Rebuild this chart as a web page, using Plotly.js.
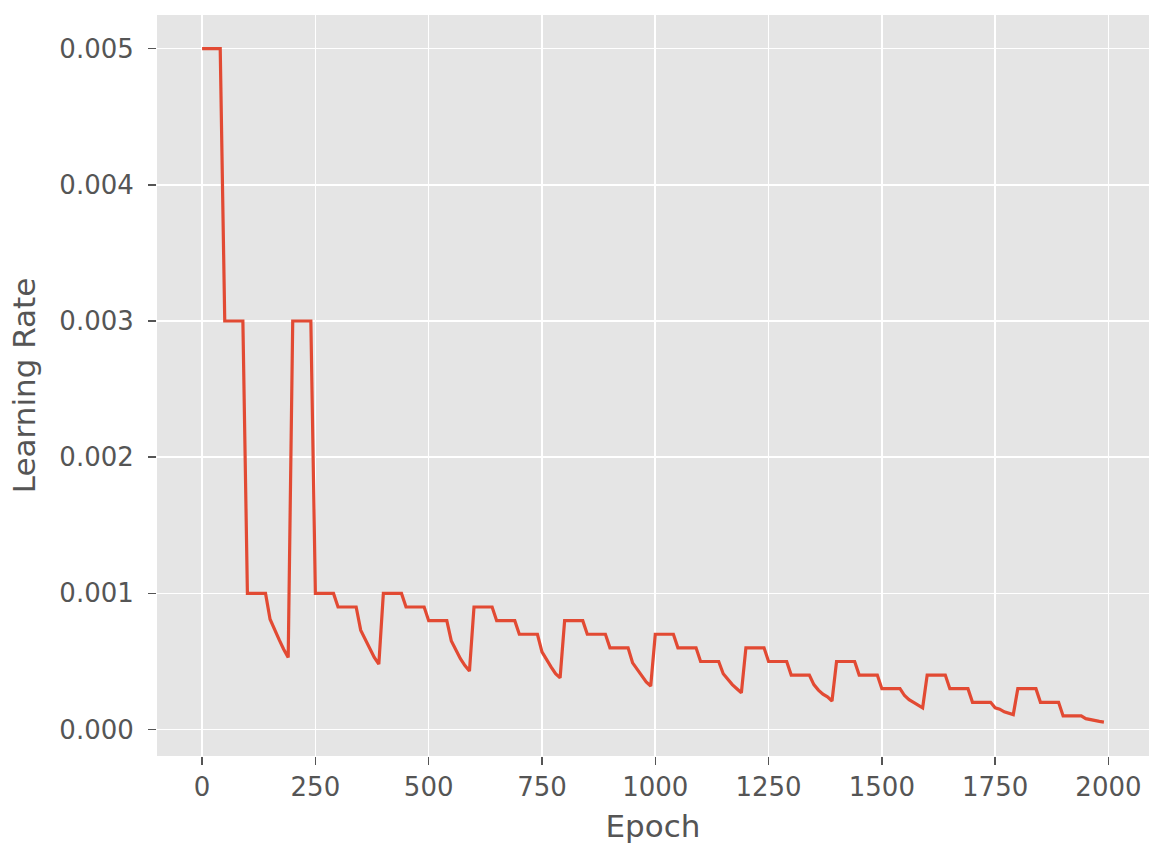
<!DOCTYPE html>
<html>
<head>
<meta charset="utf-8">
<script src="https://cdn.plot.ly/plotly-3.0.1.min.js"></script>
<style>
  html, body { margin: 0; padding: 0; background: #fff; }
  #graph1 { width: 1162px; height: 860px; }
</style>
</head>
<body>
<div id="graph1"></div>
<script>
// epochs sampled every 10, one warm restart every 200 epochs
const epochs = [
	0, 10, 20, 30, 40, 50, 60, 70, 80, 90, 100, 110, 120, 130, 140, 150, 160, 170, 180, 190,
	200, 210, 220, 230, 240, 250, 260, 270, 280, 290, 300, 310, 320, 330, 340, 350, 360, 370, 380, 390,
	400, 410, 420, 430, 440, 450, 460, 470, 480, 490, 500, 510, 520, 530, 540, 550, 560, 570, 580, 590,
	600, 610, 620, 630, 640, 650, 660, 670, 680, 690, 700, 710, 720, 730, 740, 750, 760, 770, 780, 790,
	800, 810, 820, 830, 840, 850, 860, 870, 880, 890, 900, 910, 920, 930, 940, 950, 960, 970, 980, 990,
	1000, 1010, 1020, 1030, 1040, 1050, 1060, 1070, 1080, 1090, 1100, 1110, 1120, 1130, 1140, 1150, 1160, 1170, 1180, 1190,
	1200, 1210, 1220, 1230, 1240, 1250, 1260, 1270, 1280, 1290, 1300, 1310, 1320, 1330, 1340, 1350, 1360, 1370, 1380, 1390,
	1400, 1410, 1420, 1430, 1440, 1450, 1460, 1470, 1480, 1490, 1500, 1510, 1520, 1530, 1540, 1550, 1560, 1570, 1580, 1590,
	1600, 1610, 1620, 1630, 1640, 1650, 1660, 1670, 1680, 1690, 1700, 1710, 1720, 1730, 1740, 1750, 1760, 1770, 1780, 1790,
	1800, 1810, 1820, 1830, 1840, 1850, 1860, 1870, 1880, 1890, 1900, 1910, 1920, 1930, 1940, 1950, 1960, 1970, 1980, 1990
];

const lrCycle1 = [0.005, 0.005, 0.005, 0.005, 0.005, 0.003, 0.003, 0.003, 0.003, 0.003,
	0.001, 0.001, 0.001, 0.001, 0.001, 0.00081, 0.00073, 0.00066, 0.00059, 0.00053];
const lrCycle2 = [0.003, 0.003, 0.003, 0.003, 0.003, 0.001, 0.001, 0.001, 0.001, 0.001,
	0.0009, 0.0009, 0.0009, 0.0009, 0.0009, 0.00073, 0.00066, 0.00059, 0.00053, 0.00048];
const lrCycle3 = [0.001, 0.001, 0.001, 0.001, 0.001, 0.0009, 0.0009, 0.0009, 0.0009, 0.0009,
	0.0008, 0.0008, 0.0008, 0.0008, 0.0008, 0.00065, 0.00058, 0.00052, 0.00047, 0.00043];
const lrCycle4 = [0.0009, 0.0009, 0.0009, 0.0009, 0.0009, 0.0008, 0.0008, 0.0008, 0.0008, 0.0008,
	0.0007, 0.0007, 0.0007, 0.0007, 0.0007, 0.00057, 0.00051, 0.00046, 0.00041, 0.00038];
const lrCycle5 = [0.0008, 0.0008, 0.0008, 0.0008, 0.0008, 0.0007, 0.0007, 0.0007, 0.0007, 0.0007,
	0.0006, 0.0006, 0.0006, 0.0006, 0.0006, 0.00049, 0.00044, 0.00039, 0.00035, 0.00032];
const lrCycle6 = [0.0007, 0.0007, 0.0007, 0.0007, 0.0007, 0.0006, 0.0006, 0.0006, 0.0006, 0.0006,
	0.0005, 0.0005, 0.0005, 0.0005, 0.0005, 0.00041, 0.00037, 0.00033, 0.0003, 0.00027];
const lrCycle7 = [0.0006, 0.0006, 0.0006, 0.0006, 0.0006, 0.0005, 0.0005, 0.0005, 0.0005, 0.0005,
	0.0004, 0.0004, 0.0004, 0.0004, 0.0004, 0.00033, 0.00029, 0.00026, 0.00024, 0.00021];
const lrCycle8 = [0.0005, 0.0005, 0.0005, 0.0005, 0.0005, 0.0004, 0.0004, 0.0004, 0.0004, 0.0004,
	0.0003, 0.0003, 0.0003, 0.0003, 0.0003, 0.00025, 0.00022, 0.0002, 0.00018, 0.00016];
const lrCycle9 = [0.0004, 0.0004, 0.0004, 0.0004, 0.0004, 0.0003, 0.0003, 0.0003, 0.0003, 0.0003,
	0.0002, 0.0002, 0.0002, 0.0002, 0.0002, 0.00016, 0.00015, 0.00013, 0.00012, 0.00011];
const lrCycle10 = [0.0003, 0.0003, 0.0003, 0.0003, 0.0003, 0.0002, 0.0002, 0.0002, 0.0002, 0.0002,
	0.0001, 0.0001, 0.0001, 0.0001, 0.0001, 0.00008, 0.000072, 0.000066, 0.00006, 0.000055];

const xTicks = [0, 250, 500, 750, 1000, 1250, 1500, 1750, 2000];
const yTicks = [0, 0.001, 0.002, 0.003, 0.004, 0.005];
const yTickText = ["0.000", "0.001", "0.002", "0.003", "0.004", "0.005"];

let learningRate = [].concat(lrCycle1, lrCycle2, lrCycle3, lrCycle4, lrCycle5,
	lrCycle6, lrCycle7, lrCycle8, lrCycle9, lrCycle10);

let graph = {
	type: 'scatter',
	mode: 'lines',
	x: epochs,
	y: learningRate,
	line: {
		color: "#E24A33",
		width: 3.2,
	},
	hoverinfo: 'skip',
};

let layout = {
	width: 1162,
	height: 860,
	margin: {l: 157, r: 13, t: 15, b: 104},
	paper_bgcolor: "#ffffff",
	plot_bgcolor: "#E5E5E5",
	showlegend: false,
	font: {family: "DejaVu Sans", color: "#555555"},
	xaxis: {
		title: {text: "Epoch", font: {size: 31, color: "#555555"}, standoff: 14},
		range: [-99.5, 2089.5],
		tickvals: xTicks,
		ticktext: xTicks.map(String),
		tickfont: {size: 26, color: "#555555"},
		ticks: 'outside',
		ticklen: 8,
		tickwidth: 1.5,
		tickcolor: "#555555",
		showgrid: true,
		gridcolor: "#ffffff",
		gridwidth: 1.6,
		zeroline: false,
		showline: false,
	},
	yaxis: {
		title: {text: "Learning Rate", font: {size: 31, color: "#555555"}, standoff: 14},
		range: [-0.000194, 0.005247],
		tickvals: yTicks,
		ticktext: yTickText,
		tickfont: {size: 26, color: "#555555"},
		ticklabelstandoff: 9,
		ticks: 'outside',
		ticklen: 8,
		tickwidth: 1.5,
		tickcolor: "#555555",
		showgrid: true,
		gridcolor: "#ffffff",
		gridwidth: 1.6,
		zeroline: false,
		showline: false,
	},
};

Plotly.newPlot('graph1', [graph], layout, {staticPlot: true});
</script>
</body>
</html>
